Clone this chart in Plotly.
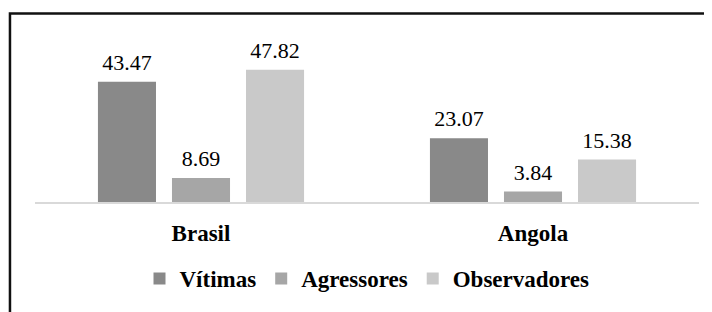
import plotly.graph_objects as go

categories = ["Brasil", "Angola"]
series_names = ["Vítimas", "Agressores", "Observadores"]
vitimas = [43.47, 23.07]
agressores = [8.69, 3.84]
observadores = [47.82, 15.38]
series_values = [vitimas, agressores, observadores]
colors = ["#898989", "#a6a6a6", "#c9c9c9"]

FONT = "Times New Roman, Liberation Serif, serif"

fig = go.Figure()
for name, vals, col in zip(series_names, series_values, colors):
    fig.add_trace(go.Bar(
        x=categories, y=vals, name=name,
        marker=dict(color=col, line=dict(width=0)),
        text=[f"<span style='font-size:22px'>{v:.2f}</span><br>&nbsp;" for v in vals],
        textposition="outside",
        textfont=dict(family=FONT, size=6, color="#000000"),
        constraintext="none",
        cliponaxis=False,
        hoverinfo="x+y+name",
    ))

fig.update_layout(
    width=704, height=304,
    margin=dict(l=27, r=13, t=22, b=106),
    paper_bgcolor="white", plot_bgcolor="white",
    barmode="group", bargap=0.331, bargroupgap=0.216,
    showlegend=True,
    legend=dict(orientation="h", x=0.5, xanchor="center", y=-0.445, yanchor="middle",
                font=dict(family=FONT, size=23, color="#000000", weight="bold"),
                itemwidth=30, traceorder="normal"),
)
fig.update_xaxes(
    showline=True, linecolor="#d9d9d9", linewidth=2,
    showgrid=False, ticks="", ticklabelstandoff=9,
    tickfont=dict(family=FONT, size=23, color="#000000", weight="bold"),
    fixedrange=True,
)
fig.update_yaxes(range=[0, 62.2], visible=False, showgrid=False, fixedrange=True)

# outer frame (only top and left edges visible in the window)
fig.add_shape(type="rect", xref="paper", yref="paper",
              x0=-0.0377, x1=1.2, y0=-0.9, y1=1.0966,
              line=dict(color="#111111", width=2.5), layer="above")

fig.write_html("out.html")
